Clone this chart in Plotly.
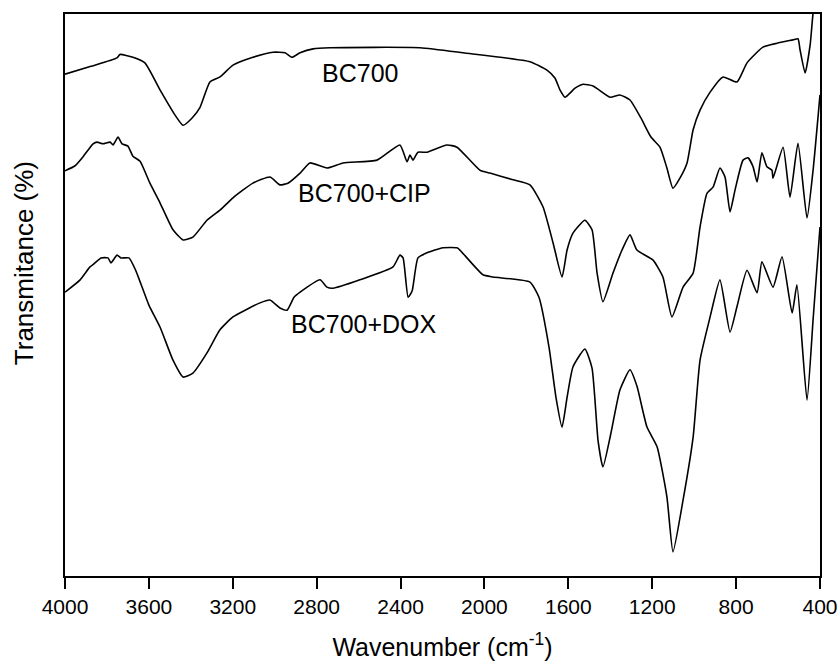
import plotly.graph_objects as go

# FTIR spectra of BC700 before and after CIP / DOX adsorption (offset traces)
bc700_wn = [4000, 3876, 3752, 3738, 3676, 3619, 3547, 3475, 3437, 3394, 3356, 3309, 3261,
            3199, 3104, 3008, 2951, 2918, 2879, 2817, 2736, 2307, 2102, 1783, 1702, 1664,
            1640, 1616, 1568, 1530, 1482, 1401, 1354, 1306, 1254, 1206, 1163, 1130, 1101,
            1068, 1034, 1005, 972, 924, 862, 796, 748, 672, 605, 529, 505, 495, 471, 447,
            433, 410]
bc700_t = [89.3, 90.7, 92.2, 92.8, 92.3, 91.3, 86.5, 82.0, 80.2, 81.5, 83.4, 87.9, 88.8,
           90.9, 92.3, 93.2, 93.1, 92.3, 93.1, 93.8, 94.0, 94.0, 93.1, 91.5, 90.0, 88.6,
           86.5, 85.2, 86.8, 87.5, 87.2, 85.2, 85.6, 84.7, 81.5, 78.1, 76.3, 72.6, 69.0,
           70.8, 73.5, 79.4, 82.9, 86.1, 88.8, 87.9, 91.3, 94.1, 94.8, 95.4, 95.6, 93.6,
           89.5, 94.5, 100.2, 106.0]

cip_wn = [4000, 3952, 3914, 3866, 3847, 3819, 3785, 3771, 3747, 3728,
          3700, 3676, 3642, 3595, 3547, 3485, 3437, 3390, 3323, 3261,
          3199, 3104, 3023, 2975, 2937, 2879, 2832, 2751, 2674, 2512,
          2403, 2369, 2355, 2341, 2317, 2274, 2179, 2131, 2021, 1974,
          1864, 1783, 1721, 1673, 1630, 1606, 1578, 1521, 1487, 1463,
          1435, 1387, 1344, 1306, 1273, 1196, 1149, 1106, 1053, 1005,
          972, 939, 910, 877, 853, 829, 805, 767, 743, 719,
          700, 677, 653, 629, 624, 576, 543, 505, 462, 433,
          400]
cip_t = [72.1, 73.0, 74.6, 76.9, 77.2, 76.9, 77.2, 76.7, 78.1, 76.9,
         76.5, 74.7, 73.8, 69.9, 66.4, 61.6, 59.8, 60.3, 63.3, 65.1,
         67.3, 69.9, 71.0, 69.6, 69.9, 71.7, 73.5, 72.6, 73.5, 74.0,
         76.7, 73.7, 74.9, 74.0, 75.4, 75.4, 76.7, 76.3, 72.2, 71.7,
         70.5, 69.6, 65.7, 59.3, 53.2, 58.0, 61.0, 63.3, 61.6, 53.9,
         48.8, 53.9, 58.0, 60.7, 58.0, 56.2, 53.2, 46.1, 51.4, 53.9,
         62.1, 68.1, 69.2, 72.6, 71.0, 64.8, 68.7, 74.0, 74.4, 72.8,
         70.1, 75.3, 72.8, 72.2, 70.8, 76.3, 67.4, 77.0, 63.7, 72.2,
         85.6]

dox_wn = [4000, 3928, 3881, 3857, 3828, 3795, 3781, 3752, 3733, 3695, 3662, 3600, 3547,
          3485, 3437, 3390, 3323, 3261, 3199, 3070, 3023, 2975, 2941, 2908, 2879, 2784,
          2751, 2722, 2594, 2436, 2403, 2388, 2364, 2345, 2317, 2274, 2198, 2131, 2117,
          2007, 1959, 1783, 1740, 1692, 1659, 1630, 1606, 1578, 1521, 1487, 1458, 1435,
          1397, 1354, 1306, 1273, 1225, 1177, 1130, 1101, 1053, 1005, 972, 924, 877, 829,
          796, 748, 700, 677, 624, 581, 533, 510, 462, 433, 400]
dox_t = [50.5, 52.7, 55.0, 55.7, 56.6, 56.6, 55.7, 57.1, 56.6, 56.6, 54.3, 48.2, 44.3,
         38.4, 35.4, 36.1, 39.7, 43.8, 46.1, 48.6, 49.1, 47.7, 47.3, 49.6, 50.5, 52.7,
         51.4, 51.2, 52.7, 55.0, 57.1, 56.6, 49.6, 50.7, 56.6, 57.5, 58.4, 58.4, 58.0,
         53.6, 53.2, 52.3, 49.6, 40.7, 31.8, 26.5, 31.8, 37.2, 40.4, 37.0, 24.0, 19.4,
         25.4, 33.1, 36.7, 33.8, 26.5, 23.0, 14.1, 4.3, 13.5, 24.7, 38.4, 46.1, 52.7, 43.4,
         47.9, 54.4, 50.4, 55.9, 51.4, 56.8, 46.8, 51.8, 31.3, 45.6, 62.1]

labels = ["BC700", "BC700+CIP", "BC700+DOX"]
label_wn = [2593, 2574, 2572]
label_t = [89.5, 68.1, 44.8]

x_ticks = [4000, 3600, 3200, 2800, 2400, 2000, 1600, 1200, 800, 400]

FONT = "Liberation Sans, Arial, sans-serif"

fig = go.Figure()
for wn, t, name in [(bc700_wn, bc700_t, labels[0]),
                    (cip_wn, cip_t, labels[1]),
                    (dox_wn, dox_t, labels[2])]:
    fig.add_trace(go.Scatter(x=wn, y=t, mode="lines", name=name,
                             line=dict(color="black", width=1.6,
                                       shape="spline", smoothing=0.5)))

for name, xw, yt in zip(labels, label_wn, label_t):
    fig.add_annotation(x=xw, y=yt, text=name, showarrow=False,
                       font=dict(family=FONT, size=25, color="black"),
                       xanchor="center", yanchor="middle")

# y-axis title, set a little above the middle of the axis
fig.add_annotation(xref="paper", yref="paper", x=-0.054, y=0.557,
                   text="Transmitance (%)", textangle=-90, showarrow=False,
                   font=dict(family=FONT, size=26, color="black"),
                   xanchor="center", yanchor="middle")

fig.update_layout(
    width=840, height=661,
    margin=dict(l=65, r=20, t=14, b=85),
    paper_bgcolor="white", plot_bgcolor="white",
    showlegend=False,
    font=dict(family=FONT, color="black"),
)
fig.update_xaxes(
    range=[4000, 400], tickvals=x_ticks, ticktext=[str(v) for v in x_ticks],
    ticks="outside", ticklen=11, tickwidth=2, tickcolor="black",
    tickfont=dict(size=21, family=FONT, color="black"),
    showline=True, linewidth=2, linecolor="black", mirror=True,
    showgrid=False, zeroline=False,
    title=dict(text="Wavenumber (cm<sup>-1</sup>)", font=dict(size=25, family=FONT),
               standoff=22),
    automargin=False,
)
fig.update_yaxes(
    range=[0, 100], showticklabels=False, ticks="",
    showline=True, linewidth=2, linecolor="black", mirror=True,
    showgrid=False, zeroline=False,
    automargin=False,
)

fig.write_html("out.html")
